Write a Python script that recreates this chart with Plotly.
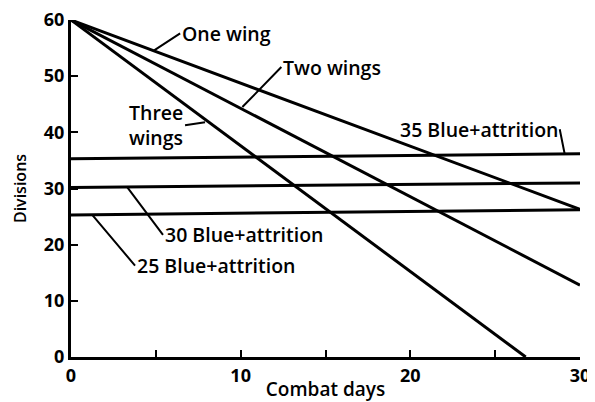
import plotly.graph_objects as go

# combat days and divisions
days = [0, 30]
one_wing = [60, 26.3]
two_wings = [60, 12.8]
three_days = [0, 26.8]
three_wings = [60, 0]

blue_days = [0, 30.1]
blue_35 = [35.3, 36.2]
blue_30 = [30.2, 31.0]
blue_25 = [25.3, 26.2]

x_ticks = [0, 5, 10, 15, 20, 25, 30]
x_labels = ["0", "", "10", "", "20", "", "30"]
y_ticks = [0, 10, 20, 30, 40, 50, 60]

FONT = "Open Sans"
LW = 3

fig = go.Figure()
for xs, ys in [(days, one_wing), (days, two_wings), (three_days, three_wings),
               (blue_days, blue_35), (blue_days, blue_30), (blue_days, blue_25)]:
    fig.add_trace(go.Scatter(x=xs, y=ys, mode="lines", cliponaxis=False,
                             line=dict(color="black", width=LW), showlegend=False))

def label(text, x, y, ax, ay, xanchor="left"):
    fig.add_annotation(x=x, y=y, ax=ax, ay=ay, text=text, showarrow=True,
                       arrowhead=0, arrowwidth=2, arrowcolor="black",
                       xanchor=xanchor, align="left",
                       font=dict(family=FONT, size=19.5, color="black", weight=600))

label("One wing", 4.9, 54.6, 26, -17)
label("Two wings", 10.1, 44.5, 39, -40)
label("Three<br>wings", 7.9, 41.8, -20, 3, xanchor="right")
label("35 Blue+attrition", 29.1, 36.1, -5, -25, xanchor="right")
label("30 Blue+attrition", 3.3, 30.3, 36, 48)
label("25 Blue+attrition", 1.24, 25.35, 43, 51)

# page body has an 8px margin, so the figure is a bit smaller than the window
fig.update_layout(
    width=587, height=394,
    margin=dict(l=63, r=15, t=12, b=45),
    plot_bgcolor="white", paper_bgcolor="white",
    font=dict(family=FONT, size=16, color="black"),
    xaxis=dict(range=[0, 30], tickvals=x_ticks, ticktext=x_labels, automargin=False,
               ticklabeloverflow="allow",
               ticks="inside", ticklen=7, tickwidth=2, tickcolor="black",
               showline=True, linecolor="black", linewidth=3, showgrid=False,
               zeroline=False, tickfont=dict(family=FONT, size=18, weight="bold"),
               title=dict(text="Combat days", standoff=0,
                          font=dict(family=FONT, size=19, weight=600))),
    yaxis=dict(range=[0, 60], tickvals=y_ticks, automargin=False,
               ticklabeloverflow="allow",
               ticks="inside", ticklen=7, tickwidth=2, tickcolor="black",
               showline=True, linecolor="black", linewidth=3, showgrid=False,
               zeroline=False, tickfont=dict(family=FONT, size=18, weight="bold"),
               title=dict(text="Divisions", standoff=14,
                          font=dict(family=FONT, size=16, weight=600))),
)

fig.write_html("out.html")
